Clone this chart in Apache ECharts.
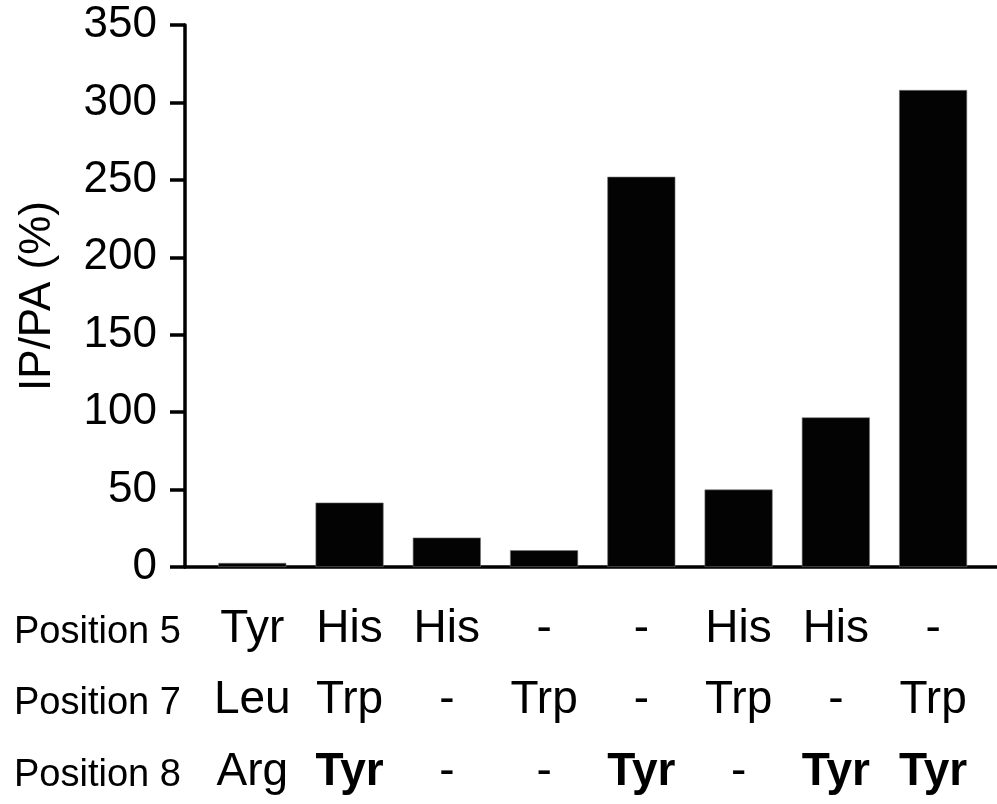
<!DOCTYPE html>
<html>
<head>
<meta charset="utf-8">
<script src="https://cdn.jsdelivr.net/npm/echarts@6/dist/echarts.min.js"></script>
<style>
html,body{margin:0;padding:0;background:#fff;}
#chart{width:997px;height:804px;}
</style>
</head>
<body>
<div id="chart"></div>
<script>
// ---- data ----
const rowNames = ['Position 5', 'Position 7', 'Position 8'];
const pos5 = ['Tyr', 'His', 'His', '-', '-', 'His', 'His', '-'];
const pos7 = ['Leu', 'Trp', '-', 'Trp', '-', 'Trp', '-', 'Trp'];
const pos8 = ['Arg', 'Tyr', '-', '-', 'Tyr', '-', 'Tyr', 'Tyr'];
const pos8Bold = [false, true, false, false, true, false, true, true];
const values = [2.6, 41.6, 19, 10.8, 252, 50, 96.6, 308];
const yTicks = [0, 50, 100, 150, 200, 250, 300, 350];
const yTitle = 'IP/PA (%)';

const FONT = '"Liberation Sans", Arial, Helvetica, sans-serif';
const idx = values.map((_, i) => i);
const barData = values.map((v, i) => [i, v]);

const chart = echarts.init(document.getElementById('chart'), null, {renderer: 'canvas'});

const rowBaseY = [632.2, 703.7, 775.2];

chart.setOption({
  backgroundColor: '#ffffff',
  animation: false,
  textStyle: {fontFamily: FONT, color: '#000'},
  grid: {left: 185, right: 0, top: 25, bottom: 237, containLabel: false, outerBoundsMode: 'none'},
  xAxis: {
    type: 'value',
    min: -0.692,
    max: 7.657,
    splitLine: {show: false},
    axisLine: {show: true, onZero: false, lineStyle: {color: '#000', width: 3.5}},
    axisTick: {show: false},
    axisLabel: {
      show: true,
      customValues: idx,
      margin: 26.4,
      showMinLabel: true,
      showMaxLabel: true,
      hideOverlap: false,
      formatter: function (v) {
        const i = Math.round(v);
        if (i < 0 || i >= values.length) return '';
        const b = pos8Bold[i] ? 'b' : 'a';
        return '{a|' + pos5[i] + '}\n{a|' + pos7[i] + '}\n{' + b + '|' + pos8[i] + '}';
      },
      rich: {
        a: {fontSize: 46, lineHeight: 71.5, fontFamily: FONT, color: '#000'},
        b: {fontSize: 46, lineHeight: 71.5, fontFamily: FONT, color: '#000', fontWeight: 'bold'}
      }
    }
  },
  yAxis: {
    type: 'value',
    min: yTicks[0],
    max: yTicks[yTicks.length - 1],
    interval: 50,
    name: yTitle,
    nameLocation: 'middle',
    nameRotate: 90,
    nameGap: 125,
    nameTextStyle: {fontSize: 44, fontFamily: FONT, color: '#000'},
    splitLine: {show: false},
    axisLine: {show: true, onZero: false, lineStyle: {color: '#000', width: 3.5}},
    axisTick: {show: true, length: 15, lineStyle: {color: '#000', width: 3.5}},
    axisLabel: {fontSize: 44, fontFamily: FONT, color: '#000', margin: 28}
  },
  series: [{
    type: 'bar',
    data: barData,
    barWidth: 68,
    itemStyle: {color: '#030303', borderColor: '#777', borderWidth: 0.6},
    silent: true
  }],
  graphic: rowNames.map((t, r) => ({
    type: 'text',
    left: 14,
    top: rowBaseY[r] - 19,
    style: {text: t, fontSize: 38, fontFamily: FONT, fill: '#000', verticalAlign: 'top'}
  }))
});
</script>
</body>
</html>
